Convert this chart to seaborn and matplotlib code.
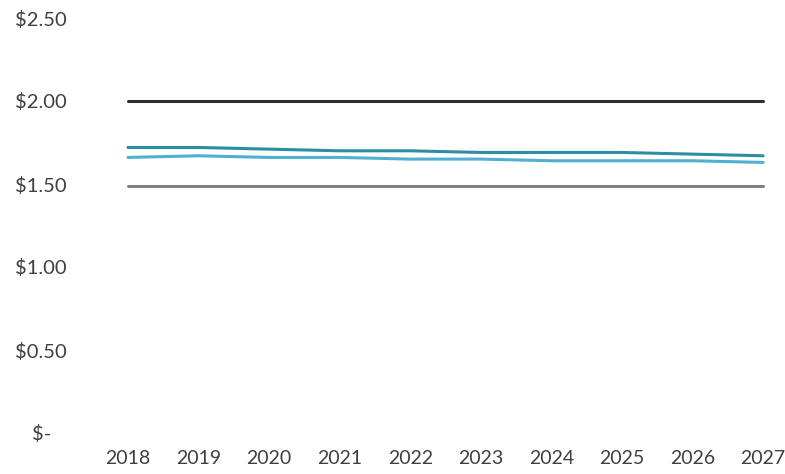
import matplotlib
matplotlib.use("Agg")
import matplotlib.pyplot as plt
import matplotlib.transforms as mtransforms
import seaborn as sns
import pandas as pd

years = [2018, 2019, 2020, 2021, 2022, 2023, 2024, 2025, 2026, 2027]
series_top = [2.00, 2.00, 2.00, 2.00, 2.00, 2.00, 2.00, 2.00, 2.00, 2.00]
series_teal = [1.72, 1.72, 1.71, 1.70, 1.70, 1.69, 1.69, 1.69, 1.68, 1.67]
series_blue = [1.66, 1.67, 1.66, 1.66, 1.65, 1.65, 1.64, 1.64, 1.64, 1.63]
series_gray = [1.49, 1.49, 1.49, 1.49, 1.49, 1.49, 1.49, 1.49, 1.49, 1.49]
y_ticks = [0.0, 0.5, 1.0, 1.5, 2.0, 2.5]
y_tick_labels = ["$-", "$0.50", "$1.00", "$1.50", "$2.00", "$2.50"]

series_names = ["top", "teal", "blue", "gray"]
series_values = [series_top, series_teal, series_blue, series_gray]
palette = {"top": "#2f2f2f", "teal": "#2c8ea3", "blue": "#4fb0d2", "gray": "#808080"}

df = pd.DataFrame(
    [(y, name, v) for name, vals in zip(series_names, series_values) for y, v in zip(years, vals)],
    columns=["year", "series", "value"],
)

sns.set_theme(style="white")
plt.rcParams["font.family"] = ["Lato", "DejaVu Sans"]

W, H = 785, 474
fig = plt.figure(figsize=(W / 100, H / 100), dpi=100)
left, right, top, bottom = 93, 785, 18, 433
ax = fig.add_axes([left / W, 1 - bottom / H, (right - left) / W, (bottom - top) / H])

sns.lineplot(data=df, x="year", y="value", hue="series", hue_order=series_names,
             palette=palette, linewidth=2.2, legend=False, ax=ax)

ax.set_xlim(2017.504, 2027.31)
ax.set_ylim(0, 2.5)
ax.set_xticks(years)
ax.set_xticklabels([str(y) for y in years])
ax.set_yticks(y_ticks)
ax.set_yticklabels(y_tick_labels)
ax.set_xlabel("")
ax.set_ylabel("")
for s in ax.spines.values():
    s.set_visible(False)
ax.grid(False)

text_color = "#3f3f3f"
ax.tick_params(axis="y", length=0, pad=19, labelsize=14.5, labelcolor=text_color)
ax.tick_params(axis="x", length=0, pad=12, labelsize=14, labelcolor=text_color)

# the zero label sits slightly inward, as in accounting number format
zero_lbl = ax.get_yticklabels()[0]
zero_lbl.set_transform(zero_lbl.get_transform() +
                       mtransforms.ScaledTranslation(-0.15, 0, fig.dpi_scale_trans))

fig.savefig("out.png", dpi=100, facecolor="white")
